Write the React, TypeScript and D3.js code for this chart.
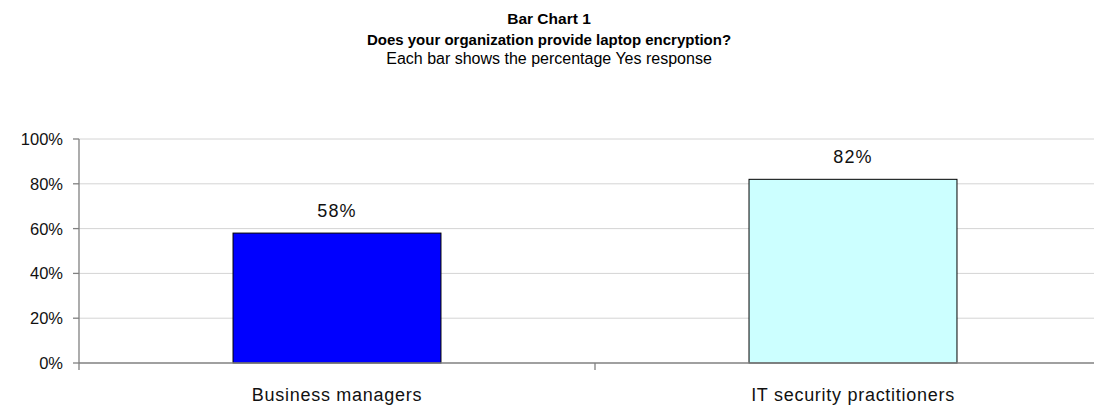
import React from "react";
import * as d3 from "d3";

const categories = ["Business managers", "IT security practitioners"];
const values = [0.58, 0.82];
const colors = ["#0000FF", "#CCFFFF"];
const yTicks = [0, 0.2, 0.4, 0.6, 0.8, 1.0];
const titleLines = [
  "Bar Chart 1",
  "Does your organization provide laptop encryption?",
  "Each bar shows the percentage Yes response",
];

export default function App() {
  const W = 1094, H = 406;
  const left = 79, right = 1111, top = 139, bottom = 363;
  const x = d3.scaleBand<string>().domain(categories).range([left, right]).paddingInner(0).paddingOuter(0);
  const y = d3.scaleLinear().domain([0, 1]).range([bottom, top]);
  const barW = x.bandwidth() * 0.403;
  const font = "'Liberation Sans', Arial, sans-serif";
  const fmt = d3.format(".0%");
  const ls = 1.2;
  return (
    <svg width={W} height={H} style={{ position: "absolute", left: 0, top: 0, background: "#fff" }} fontFamily={font}>
      <text x={549} y={24} textAnchor="middle" fontSize={15.5} fontWeight="bold">{titleLines[0]}</text>
      <text x={549} y={45} textAnchor="middle" fontSize={15} fontWeight="bold">{titleLines[1]}</text>
      <text x={549} y={64} textAnchor="middle" fontSize={16}>{titleLines[2]}</text>
      {yTicks.slice(1).map((t) => (
        <line key={"g" + t} x1={left} x2={right} y1={y(t)} y2={y(t)} stroke="#d4d4d4" strokeWidth={1} />
      ))}
      {categories.map((c, i) => {
        const cx = (x(c) as number) + x.bandwidth() / 2;
        return (
          <g key={c}>
            <rect x={cx - barW / 2} y={y(values[i])} width={barW} height={bottom - y(values[i])} fill={colors[i]} stroke="#000" strokeWidth={1} />
            <text x={cx} y={y(values[i]) - 16.5} textAnchor="middle" fontSize={18} letterSpacing={ls} fill="#111">{fmt(values[i])}</text>
            <text x={cx} y={401} textAnchor="middle" fontSize={18} letterSpacing={ls * 0.6} fill="#111">{c}</text>
          </g>
        );
      })}
      <line x1={left} x2={left} y1={top} y2={bottom + 7} stroke="#808080" strokeWidth={1.3} />
      <line x1={left} x2={right} y1={bottom} y2={bottom} stroke="#808080" strokeWidth={1.3} />
      {yTicks.map((t) => (
        <g key={"t" + t}>
          <line x1={left - 6} x2={left} y1={y(t)} y2={y(t)} stroke="#808080" strokeWidth={1.3} />
          <text x={63} y={y(t) + 6} textAnchor="end" fontSize={16.5} fill="#111">{fmt(t)}</text>
        </g>
      ))}
      {categories.slice(1).map((c) => (
        <line key={"xt" + c} x1={x(c) as number} x2={x(c) as number} y1={bottom} y2={bottom + 7} stroke="#808080" strokeWidth={1.3} />
      ))}
    </svg>
  );
}
